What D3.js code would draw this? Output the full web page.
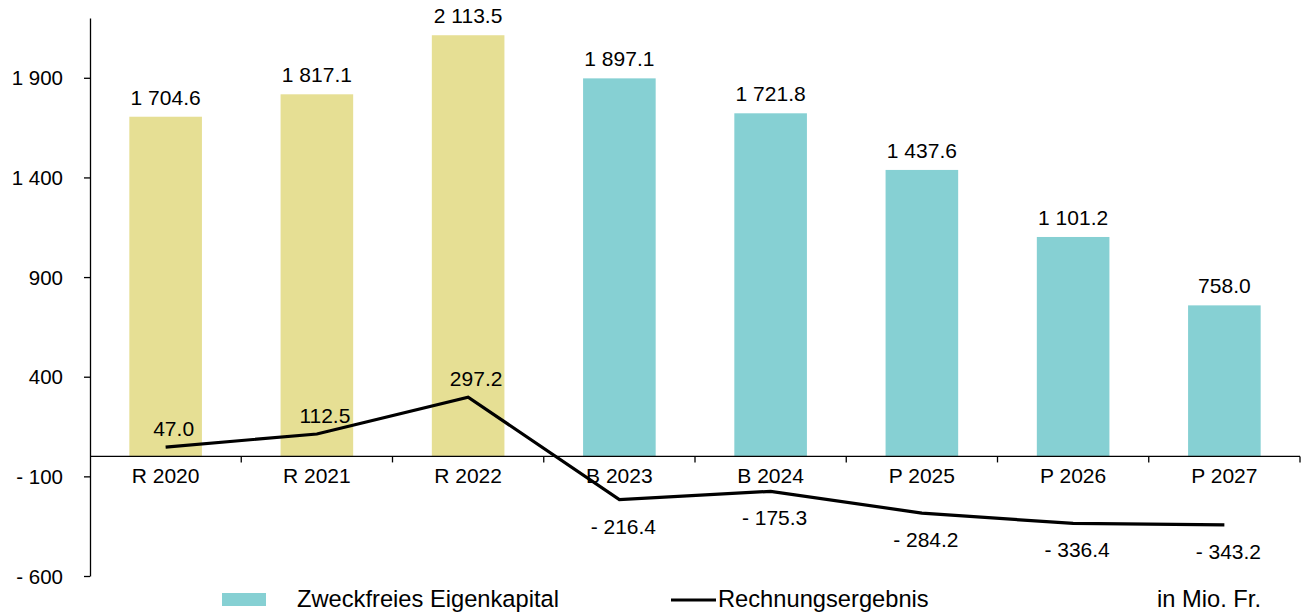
<!DOCTYPE html>
<html><head><meta charset="utf-8">
<script src="https://cdn.jsdelivr.net/npm/d3@7"></script>
<style>body{margin:0;background:#fff}svg{display:block;font-family:"Liberation Sans",Arial,sans-serif}</style>
</head><body><svg id="c" width="1302" height="612"></svg>
<script>
const categories = ["R 2020","R 2021","R 2022","B 2023","B 2024","P 2025","P 2026","P 2027"];
const eigenkapital = [1704.6, 1817.1, 2113.5, 1897.1, 1721.8, 1437.6, 1101.2, 758.0];
const ergebnis = [47.0, 112.5, 297.2, -216.4, -175.3, -284.2, -336.4, -343.2];
const barColors = ["#E6DF94","#E6DF94","#E6DF94","#86D0D3","#86D0D3","#86D0D3","#86D0D3","#86D0D3"];
const yTicks = [-600, -100, 400, 900, 1400, 1900];
const legendLabels = ["Zweckfreies Eigenkapital", "Rechnungsergebnis"];
const unitLabel = "in Mio. Fr.";

const svg = d3.select("#c");
const mLeft = 90, mRight = 1300, mTop = 18, mBottom = 576;
const y = d3.scaleLinear().domain([-600, 2200]).range([mBottom, mTop]);
const x = d3.scaleBand().domain(categories).range([mLeft, mRight]).paddingInner(0.52).paddingOuter(0.26);
const xc = d => x(d) + x.bandwidth()/2;

function fmt(v, dec) {
  const s = d3.format(",." + dec + "f")(Math.abs(v)).replace(/,/g, " ");
  return v < 0 ? "- " + s : s;
}
const fs = 21, fsTick = 20.5, fsLeg = 23.7;

// bars
svg.append("g").selectAll("rect").data(categories).join("rect")
  .attr("x", d => x(d)).attr("width", x.bandwidth())
  .attr("y", (d,i) => y(eigenkapital[i])).attr("height", (d,i) => y(0) - y(eigenkapital[i]))
  .attr("fill", (d,i) => barColors[i]);

// bar labels
svg.append("g").selectAll("text").data(categories).join("text")
  .attr("x", d => xc(d)).attr("y", (d,i) => y(eigenkapital[i]) - 12)
  .attr("text-anchor", "middle").attr("font-size", fs).attr("fill", "#000")
  .text((d,i) => fmt(eigenkapital[i], 1));

// y axis
const yAxis = d3.axisLeft(y).tickValues(yTicks).tickSize(6).tickSizeOuter(0).tickFormat(v => fmt(v, 0));
const gy = svg.append("g").attr("transform", `translate(${mLeft},0)`).call(yAxis);
gy.select(".domain").attr("stroke", "#000").attr("stroke-width", 1.3);
gy.selectAll(".tick line").attr("stroke", "#000").attr("stroke-width", 1.3);
gy.selectAll(".tick text").attr("font-size", fsTick).attr("font-family", "Liberation Sans, Arial, sans-serif").attr("fill", "#000").attr("x", -27).attr("dy", "0.35em");

// x axis at zero
const xTickPos = d3.range(categories.length + 1).map(i => mLeft + i * (mRight - mLeft) / categories.length);
const gx = svg.append("g");
gx.append("line").attr("x1", mLeft).attr("x2", mRight).attr("y1", y(0)).attr("y2", y(0)).attr("stroke", "#000").attr("stroke-width", 1.3);
gx.selectAll("line.t").data(xTickPos.slice(1)).join("line").attr("class", "t")
  .attr("x1", d => d).attr("x2", d => d).attr("y1", y(0)).attr("y2", y(0) + 6)
  .attr("stroke", "#000").attr("stroke-width", 1.3);
gx.selectAll("text").data(categories).join("text")
  .attr("x", d => xc(d)).attr("y", y(0) + 27).attr("text-anchor", "middle")
  .attr("font-size", fs).attr("fill", "#000").text(d => d);

// line
const line = d3.line().x((d,i) => xc(categories[i])).y(d => y(d));
svg.append("path").datum(ergebnis).attr("d", line).attr("fill", "none")
  .attr("stroke", "#000").attr("stroke-width", 3.2).attr("stroke-linejoin", "miter");

// line labels
svg.append("g").selectAll("text").data(ergebnis).join("text")
  .attr("x", (d,i) => xc(categories[i]) + (d >= 0 ? 8 : 4))
  .attr("y", d => d >= 0 ? y(d) - 11 : y(d) + 34)
  .attr("text-anchor", "middle").attr("font-size", fs).attr("fill", "#000")
  .text(d => fmt(d, 1));

// legend
const lg = svg.append("g");
lg.append("rect").attr("x", 222).attr("y", 593).attr("width", 44).attr("height", 13).attr("fill", "#86D0D3");
lg.append("text").attr("x", 297).attr("y", 607).attr("font-size", fsLeg).text(legendLabels[0]);
lg.append("line").attr("x1", 671).attr("x2", 716).attr("y1", 600).attr("y2", 600).attr("stroke", "#000").attr("stroke-width", 3.2);
lg.append("text").attr("x", 718).attr("y", 607).attr("font-size", fsLeg).text(legendLabels[1]);
lg.append("text").attr("x", 1157).attr("y", 607).attr("font-size", fsLeg).text(unitLabel);
</script></body></html>
